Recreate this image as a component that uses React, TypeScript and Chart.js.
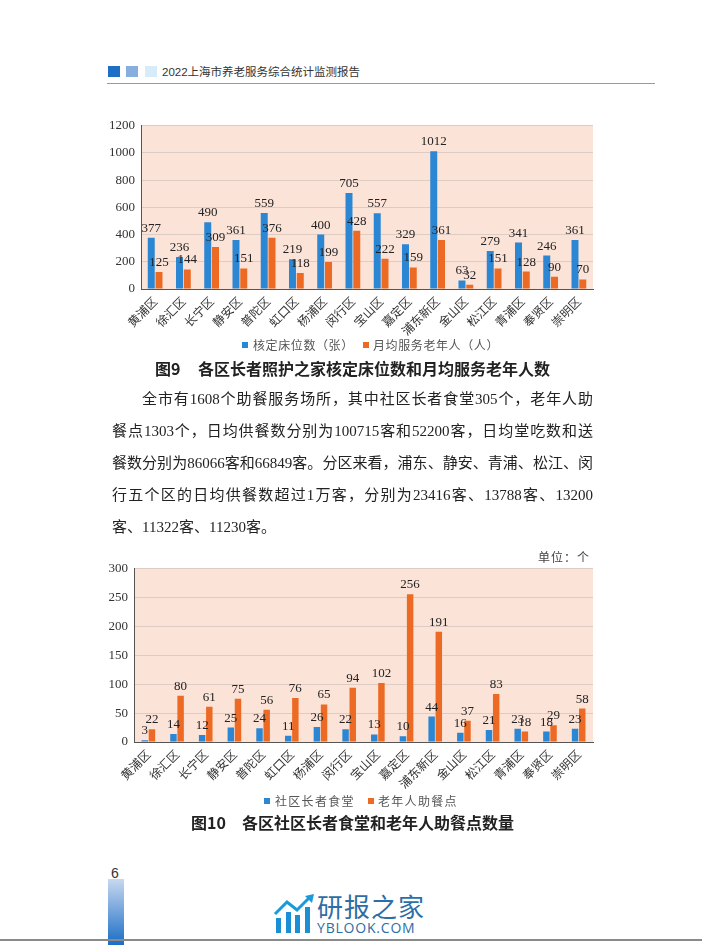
import React, { useEffect, useRef } from 'react';
import { Chart, registerables } from 'chart.js';

Chart.register(...registerables);

// ---------- data ----------
const districts = ['黄浦区', '徐汇区', '长宁区', '静安区', '普陀区', '虹口区', '杨浦区', '闵行区', '宝山区', '嘉定区', '浦东新区', '金山区', '松江区', '青浦区', '奉贤区', '崇明区'];
const bedCounts = [377, 236, 490, 361, 559, 219, 400, 705, 557, 329, 1012, 63, 279, 341, 246, 361];
const servedElders = [125, 144, 309, 151, 376, 118, 199, 428, 222, 159, 361, 32, 151, 128, 90, 70];
const canteens = [3, 14, 12, 25, 24, 11, 26, 22, 13, 10, 44, 16, 21, 23, 18, 23];
const mealPoints = [22, 80, 61, 75, 56, 76, 65, 94, 102, 256, 191, 37, 83, 18, 29, 58];

const chart1Series = ['核定床位数（张）', '月均服务老年人（人）'];
const chart2Series = ['社区长者食堂', '老年人助餐点'];

const paragraphLines = [
  '全市有1608个助餐服务场所，其中社区长者食堂305个，老年人助',
  '餐点1303个，日均供餐数分别为100715客和52200客，日均堂吃数和送',
  '餐数分别为86066客和66849客。分区来看，浦东、静安、青浦、松江、闵',
  '行五个区的日均供餐数超过1万客，分别为23416客、13788客、13200',
  '客、11322客、11230客。',
];

// ---------- styles ----------
const BLUE = '#2B86D3';
const ORANGE = '#EC6A23';
const PINK = '#FCE3D7';
const GRID = '#DDCCC3';
const AXIS = '#555555';
const SERIF = '"Liberation Serif", "Times New Roman", serif';
const CJK = '"Noto Sans CJK SC", sans-serif';
const BODY = '"Liberation Serif", "Noto Sans CJK SC", serif';

const plotBg = {
  id: 'plotBg',
  beforeDraw(chart: any) {
    const { ctx, chartArea: a } = chart;
    ctx.save();
    ctx.fillStyle = PINK;
    ctx.fillRect(a.left, a.top, a.right - a.left, a.bottom - a.top);
    ctx.restore();
  },
};

const valueLabels = {
  id: 'valueLabels',
  afterDatasetsDraw(chart: any) {
    const ctx = chart.ctx;
    ctx.save();
    ctx.font = `13px ${SERIF}`;
    ctx.fillStyle = '#222';
    ctx.textAlign = 'center';
    ctx.textBaseline = 'alphabetic';
    chart.data.datasets.forEach((ds: any, i: number) => {
      const meta = chart.getDatasetMeta(i);
      meta.data.forEach((bar: any, j: number) => {
        ctx.fillText(String(ds.data[j]), bar.x, bar.y - 6);
      });
    });
    ctx.restore();
  },
};

type BarProps = {
  left: number; top: number; width: number; height: number;
  a: number[]; b: number[]; names: string[];
  max: number; step: number; yWidth: number; xHeight: number;
  padTop: number; padRight: number; catPct: number;
};

function BarChart(p: BarProps) {
  const ref = useRef<HTMLCanvasElement | null>(null);
  useEffect(() => {
    if (!ref.current) return;
    const chart = new Chart(ref.current, {
      type: 'bar',
      data: {
        labels: districts,
        datasets: [
          { label: p.names[0], data: p.a, backgroundColor: BLUE, barPercentage: 0.9, categoryPercentage: p.catPct },
          { label: p.names[1], data: p.b, backgroundColor: ORANGE, barPercentage: 0.9, categoryPercentage: p.catPct },
        ],
      },
      options: {
        responsive: false,
        animation: false,
        devicePixelRatio: 1,
        layout: { padding: { top: p.padTop, right: p.padRight, left: 0, bottom: 0 } },
        plugins: { legend: { display: false }, tooltip: { enabled: false } },
        scales: {
          x: {
            grid: { display: false, drawTicks: false },
            border: { display: true, color: AXIS, width: 1 },
            ticks: {
              font: { family: CJK, size: 12 },
              color: '#333',
              minRotation: 45,
              maxRotation: 45,
              autoSkip: false,
              padding: 5,
            },
            afterFit: (s: any) => { s.height = p.xHeight; },
          },
          y: {
            min: 0,
            max: p.max,
            ticks: {
              stepSize: p.step,
              font: { family: SERIF, size: 13 },
              color: '#333',
              padding: 6,
              callback: (v: any) => String(v),
            },
            grid: { color: GRID, drawTicks: false },
            border: { display: true, color: AXIS, width: 1 },
            afterFit: (s: any) => { s.width = p.yWidth; },
          },
        },
      } as any,
      plugins: [plotBg, valueLabels],
    });
    return () => chart.destroy();
  }, []);
  return (
    <canvas
      ref={ref}
      width={p.width}
      height={p.height}
      style={{ position: 'absolute', left: p.left, top: p.top, width: p.width, height: p.height }}
    />
  );
}

const abs = (left: number, cy: number, extra: React.CSSProperties = {}, lh = 20): React.CSSProperties => ({
  position: 'absolute', left, top: cy - lh / 2, lineHeight: `${lh}px`, whiteSpace: 'nowrap', ...extra,
});

function LegendItem({ x, textX, cy, color, text, spacing }: { x: number; textX: number; cy: number; color: string; text: string; spacing: number }) {
  return (
    <>
      <div style={{ position: 'absolute', left: x, top: cy - 3, width: 6, height: 6, background: color }} />
      <div style={abs(textX, cy, { fontFamily: CJK, fontSize: 12, color: '#555', letterSpacing: spacing })}>{text}</div>
    </>
  );
}

export default function App() {
  return (
    <div style={{ position: 'absolute', left: 0, top: 0, width: 702, height: 945, background: '#fff', overflow: 'hidden' }}>
      {/* header */}
      <div style={{ position: 'absolute', left: 108, top: 66, width: 12, height: 11, background: '#1C6FC4' }} />
      <div style={{ position: 'absolute', left: 126, top: 66, width: 12, height: 11, background: '#88AEE0' }} />
      <div style={{ position: 'absolute', left: 145, top: 66, width: 12, height: 11, background: '#D7EBF8' }} />
      <div style={abs(162, 72, { fontFamily: '"Liberation Sans", "Noto Sans CJK SC", sans-serif', fontSize: 11.5, color: '#333' })}>
        2022上海市养老服务综合统计监测报告
      </div>
      <div style={{ position: 'absolute', left: 107, top: 83, width: 548, height: 1, background: '#9a9a9a' }} />

      {/* chart 9 */}
      <BarChart left={95} top={112} width={510} height={232} a={bedCounts} b={servedElders} names={chart1Series}
        max={1200} step={200} yWidth={46} xHeight={55} padTop={13} padRight={12} catPct={0.55} />
      <LegendItem x={242} textX={253} cy={345} color={BLUE} text={chart1Series[0]} spacing={0.6} />
      <LegendItem x={363} textX={373} cy={345} color={ORANGE} text={chart1Series[1]} spacing={0.6} />
      <div style={abs(155, 368, { fontFamily: CJK, fontSize: 16, fontWeight: 700, color: '#222' })}>图9</div>
      <div style={abs(198, 368, { fontFamily: CJK, fontSize: 16, fontWeight: 700, color: '#222' })}>各区长者照护之家核定床位数和月均服务老年人数</div>

      {/* paragraph */}
      {paragraphLines.map((line, i) => {
        const last = i === paragraphLines.length - 1;
        return (
          <div key={i} style={{
            position: 'absolute', left: 112, top: 399 + 32 * i - 16, width: 481, height: 32, lineHeight: '32px',
            fontFamily: BODY, fontSize: 15, color: '#222', whiteSpace: 'nowrap',
            textAlign: last ? 'left' : 'justify', textAlignLast: last ? 'left' : 'justify',
            textIndent: i === 0 ? 30 : 0,
          } as React.CSSProperties}>{line}</div>
        );
      })}

      {/* chart 10 */}
      <BarChart left={95} top={555} width={510} height={238} a={canteens} b={mealPoints} names={chart2Series}
        max={300} step={50} yWidth={39} xHeight={51} padTop={12} padRight={12} catPct={0.5} />
      <div style={abs(538, 557, { fontFamily: CJK, fontSize: 12, color: '#444', letterSpacing: 1 })}>单位：个</div>
      <LegendItem x={264} textX={275} cy={801} color={BLUE} text={chart2Series[0]} spacing={1.3} />
      <LegendItem x={368} textX={378} cy={801} color={ORANGE} text={chart2Series[1]} spacing={1.3} />
      <div style={abs(191, 822, { fontFamily: CJK, fontSize: 16, fontWeight: 700, color: '#222' })}>图10</div>
      <div style={abs(242, 822, { fontFamily: CJK, fontSize: 16, fontWeight: 700, color: '#222' })}>各区社区长者食堂和老年人助餐点数量</div>

      {/* footer */}
      <div style={abs(111, 873, { fontFamily: '"Liberation Sans", sans-serif', fontSize: 14, color: '#333' })}>6</div>
      <div style={{ position: 'absolute', left: 108, top: 879, width: 16, height: 66, background: 'linear-gradient(to bottom, #C8D8EF, #1A6DC6)' }} />
      <svg style={{ position: 'absolute', left: 272, top: 893, width: 44, height: 42 }} viewBox="0 0 44 42">
        <rect x={4} y={25} width={5} height={15} fill="#1B8FD3" />
        <rect x={14} y={19} width={5} height={21} fill="#1B8FD3" />
        <rect x={23} y={22} width={5} height={18} fill="#1B8FD3" />
        <rect x={33} y={14} width={5} height={26} fill="#1B8FD3" />
        <polyline points="3,21 15,9 25,17 37,5" fill="none" stroke="#1B9AD8" strokeWidth={3} />
        <polygon points="42,1 33,3 40,10" fill="#1B9AD8" />
      </svg>
      <div style={abs(317, 906, { fontFamily: CJK, fontSize: 26, color: '#2D6EA6', letterSpacing: 1 }, 28)}>研报之家</div>
      <div style={abs(317, 928, { fontFamily: '"Open Sans", "Liberation Sans", sans-serif', fontSize: 14, color: '#2D6EA6', letterSpacing: 0.8 }, 16)}>YBLOOK.COM</div>
      <div style={{ position: 'absolute', left: 0, top: 939, width: 702, height: 2, background: '#8a8a8a' }} />
    </div>
  );
}
